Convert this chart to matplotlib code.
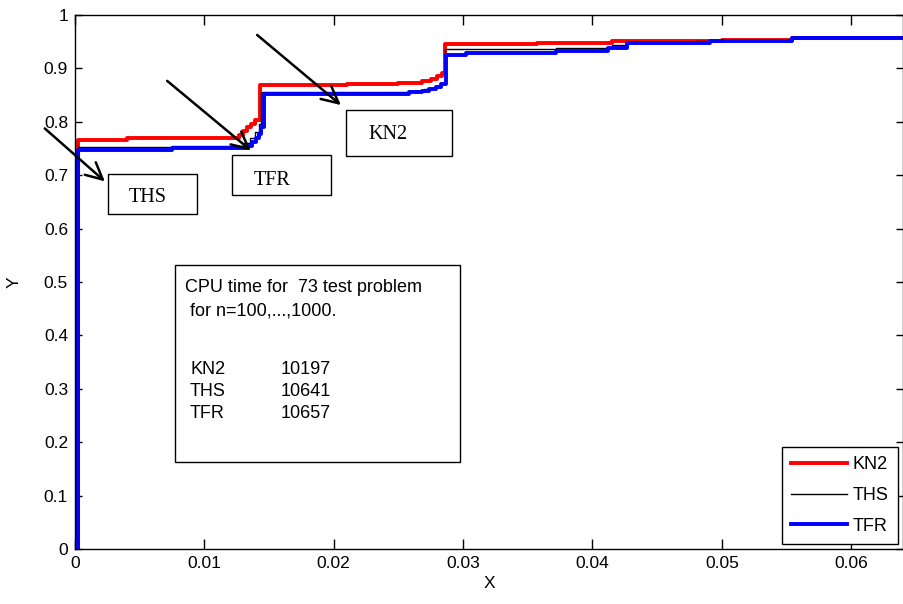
import matplotlib
matplotlib.use("Agg")
import matplotlib.pyplot as plt
from matplotlib.patches import Rectangle

plt.rcParams['font.family'] = ['Liberation Sans', 'DejaVu Sans']

# step data (x, fraction of problems)
kn2_x = [0, 0.0002, 0.0040, 0.0127, 0.0130, 0.0133, 0.0136, 0.0139, 0.0143, 0.0175,
         0.0210, 0.0250, 0.0268, 0.0275, 0.0280, 0.0284, 0.0286, 0.0357, 0.0415,
         0.0500, 0.0554, 0.0640]
kn2_y = [0, 0.766, 0.769, 0.775, 0.782, 0.790, 0.796, 0.803, 0.868, 0.869,
         0.870, 0.872, 0.876, 0.880, 0.885, 0.892, 0.946, 0.948, 0.951,
         0.954, 0.957, 0.957]

ths_x = [0, 0.0002, 0.0075, 0.0130, 0.0135, 0.0139, 0.0142, 0.0144, 0.0258, 0.0270,
         0.0278, 0.0283, 0.0286, 0.0372, 0.0415, 0.0427, 0.0480, 0.0554, 0.0640]
ths_y = [0, 0.752, 0.754, 0.760, 0.770, 0.780, 0.795, 0.855, 0.857, 0.861,
         0.866, 0.872, 0.937, 0.939, 0.944, 0.949, 0.951, 0.957, 0.957]

tfr_x = [0, 0.0002, 0.0075, 0.0133, 0.0137, 0.0140, 0.0142, 0.0144, 0.0146, 0.0258,
         0.0268, 0.0274, 0.0279, 0.0283, 0.0287, 0.0302, 0.0372, 0.0412, 0.0427,
         0.0491, 0.0554, 0.0640]
tfr_y = [0, 0.748, 0.751, 0.755, 0.762, 0.770, 0.778, 0.790, 0.852, 0.855,
         0.858, 0.861, 0.865, 0.870, 0.926, 0.929, 0.933, 0.939, 0.947,
         0.952, 0.956, 0.956]

xticks = [0, 0.01, 0.02, 0.03, 0.04, 0.05, 0.06]
xlabels = ['0', '0.01', '0.02', '0.03', '0.04', '0.05', '0.06']
yticks = [0, 0.1, 0.2, 0.3, 0.4, 0.5, 0.6, 0.7, 0.8, 0.9, 1]
ylabels = ['0', '0.1', '0.2', '0.3', '0.4', '0.5', '0.6', '0.7', '0.8', '0.9', '1']

info_lines = ['CPU time for  73 test problem', ' for n=100,...,1000.']
solvers = ['KN2', 'THS', 'TFR']
cpu_times = [10197, 10641, 10657]

fig = plt.figure(figsize=(9.04, 6.04), dpi=100)
ax = fig.add_axes([75/904, 55/604, 828/904, 534/604])

ax.step(kn2_x, kn2_y, where='post', color='red', lw=2.8, label='KN2')
ax.step(ths_x, ths_y, where='post', color='black', lw=1.0, label='THS')
ax.step(tfr_x, tfr_y, where='post', color='blue', lw=2.8, label='TFR')

ax.set_xlim(0, 0.064)
ax.set_ylim(0, 1)
ax.set_xticks(xticks)
ax.set_xticklabels(xlabels)
ax.set_yticks(yticks)
ax.set_yticklabels(ylabels)
ax.tick_params(axis='both', direction='in', top=True, right=True, labelsize=12.5, width=1)
ax.tick_params(axis='x', length=7, pad=5)
ax.tick_params(axis='y', length=5, pad=5)
for s in ax.spines.values():
    s.set_linewidth(1)
ax.set_xlabel('X', fontsize=12.5, labelpad=4)
ax.set_ylabel('Y', fontsize=12.5, labelpad=16)

leg = ax.legend(loc='lower right', fontsize=13, handlelength=3.1, borderaxespad=0.3,
                fancybox=False, edgecolor='black', framealpha=1, labelspacing=0.75,
                handletextpad=0.3, borderpad=0.5)
leg.get_frame().set_linewidth(1)

# info box
ax.add_patch(Rectangle((0.1208, 0.163), 0.344, 0.369, transform=ax.transAxes,
                       fill=False, edgecolor='black', lw=1))
ax.text(0.133, 0.489, info_lines[0], transform=ax.transAxes, fontsize=13, va='center')
ax.text(0.133, 0.446, info_lines[1], transform=ax.transAxes, fontsize=13, va='center')
for i, (name, t) in enumerate(zip(solvers, cpu_times)):
    yy = 0.337 - i * 0.042
    ax.text(0.139, yy, name, transform=ax.transAxes, fontsize=13, va='center')
    ax.text(0.248, yy, str(t), transform=ax.transAxes, fontsize=13, va='center')

# labelled boxes with arrows
boxes = [
    ('THS', (0.0399, 0.627, 0.1075, 0.075), (0.0882, 0.658), (-0.039, 0.791), (0.0386, 0.685)),
    ('TFR', (0.1896, 0.663, 0.1196, 0.075), (0.238, 0.690), (0.1087, 0.880), (0.215, 0.743)),
    ('KN2', (0.327, 0.736, 0.128, 0.086), (0.378, 0.776), (0.2174, 0.966), (0.3237, 0.828)),
]
for label, (bx, by, bw, bh), (tx, ty), start, end in boxes:
    ax.add_patch(Rectangle((bx, by), bw, bh, transform=ax.transAxes, fill=False,
                           edgecolor='black', lw=1, clip_on=False))
    ax.text(tx, ty, label, transform=ax.transAxes, fontsize=14.5, ha='center', va='center',
            family=['Liberation Serif', 'DejaVu Serif'])
    ax.annotate('', xy=end, xytext=start, xycoords='axes fraction', textcoords='axes fraction',
                annotation_clip=False,
                arrowprops=dict(arrowstyle='->,head_length=0.5,head_width=0.25',
                                color='black', lw=1.8, mutation_scale=24))

fig.savefig('out.png', dpi=100)
